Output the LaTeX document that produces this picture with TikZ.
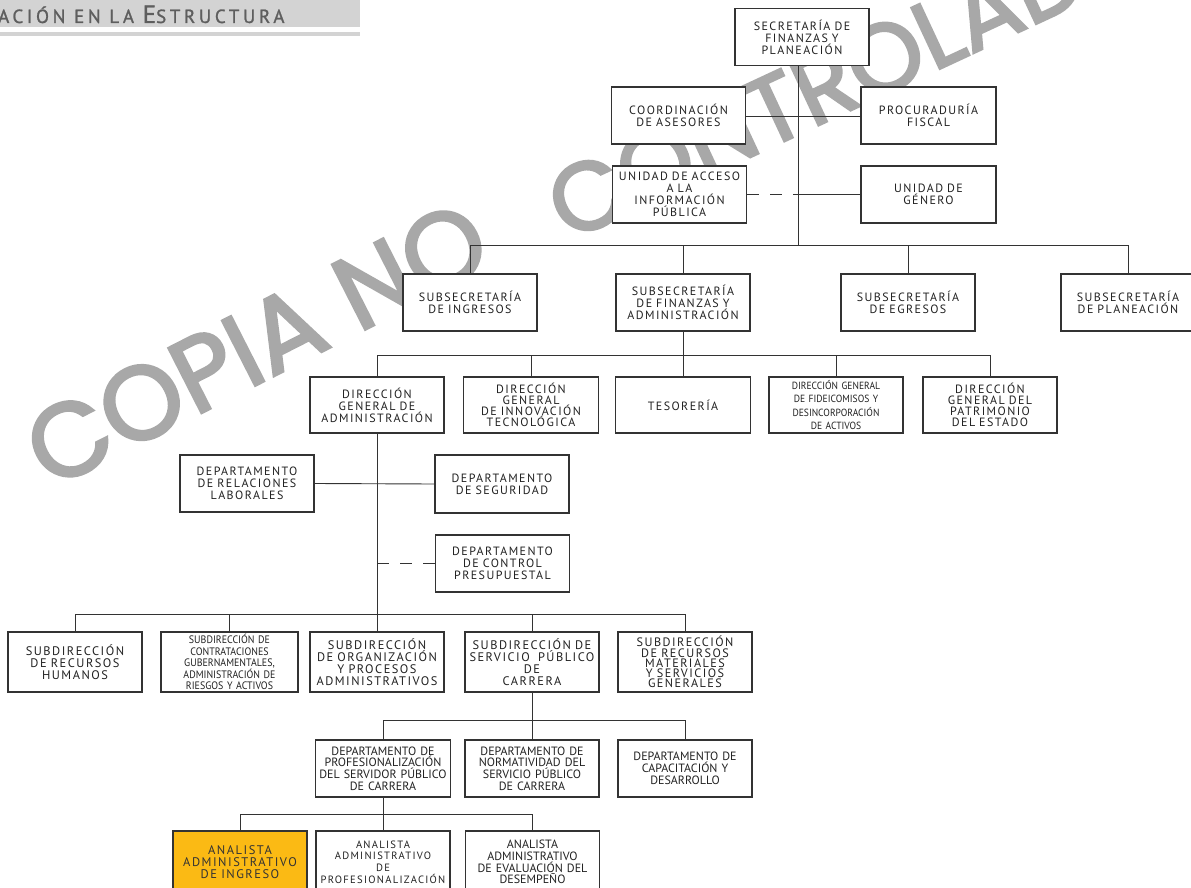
\documentclass[tikz,border=0pt]{standalone}
\usepackage{fontspec}
\setmainfont{PT Sans}
\newfontfamily\wmfont[FakeBold=2.8]{Poppins}
\newfontfamily\bxfont[LetterSpace=12]{PT Sans}
\newfontfamily\smfont{PT Sans}
\newfontfamily\cnfont[FakeStretch=0.92]{PT Sans}
\newfontfamily\hdfont[LetterSpace=19,FakeBold=1.2]{PT Sans}
\definecolor{wm}{HTML}{A8A8A8}
\definecolor{band}{HTML}{D3D3D3}
\definecolor{hdtxt}{HTML}{5E5E5E}
\definecolor{ylw}{HTML}{FBBA14}
\definecolor{bd}{HTML}{333333}
\definecolor{tx}{HTML}{222222}
\tikzset{
  box/.style={draw=bd, line width=1.1pt, fill=white, inner sep=1pt, align=center,
    text=tx, minimum width=134pt, minimum height=57pt, text width=132pt,
    font=\bxfont\fontsize{12}{12}\selectfont},
  smallbox/.style={box, font=\cnfont\fontsize{10.8}{11.6}\selectfont},
  midbox/.style={box, font=\smfont\fontsize{12}{11.8}\selectfont},
  ln/.style={draw=bd, line width=0.9pt},
  dln/.style={ln, dash pattern=on 12pt off 11pt},
  wmark/.style={anchor=base west, inner sep=0, text=wm}
}
\begin{document}
\begin{tikzpicture}[x=1pt,y=-1pt]
\useasboundingbox (0,0) rectangle (1191,888);
\clip (0,0) rectangle (1191,888);
% header
\fill[band] (0,0) rectangle (360,27);
\fill[band] (0,32) rectangle (360,36);
\node[anchor=base west, inner sep=0, text=hdtxt] (hdr) at (-2,23)
  {\hdfont\fontsize{19}{19}\selectfont ACIÓN EN LA \fontsize{25}{25}\selectfont E\fontsize{19}{19}\selectfont STRUCTURA};
% watermark
\node[wmark, rotate=27, font=\wmfont\fontsize{104}{104}\selectfont] (wm1) at (50,490) {COPIA NO};
\node[wmark, rotate=25, font=\wmfont\fontsize{96}{96}\selectfont] (wm2) at (568,242) {CONTROLADA};

% level 0/1
\node[box] (sec) at (802,37) {SECRETARÍA DE\\FINANZAS Y\\PLANEACIÓN};
\node[box, minimum width=133pt] (coord) at (678.5,115.5) {COORDINACIÓN\\DE ASESORES};
\node[box, minimum width=135pt] (proc) at (928.5,115.5) {PROCURADURÍA\\FISCAL};
\node[box, minimum width=133pt, font=\bxfont\fontsize{12}{12}\selectfont] (uaip) at (679.5,194.5) {UNIDAD DE ACCESO\\A LA\\INFORMACIÓN\\PÚBLICA};
\node[box, minimum width=135pt] (gen) at (928.5,194.5) {UNIDAD DE\\GÉNERO};
\coordinate (t1) at (798,245);
\draw[ln] ([xshift=-4pt]sec.south) -- (t1);
\draw[ln] ([yshift=-0.5pt]coord.east) -- ([yshift=-0.5pt]proc.west);
\draw[dln] (uaip.east) -- (uaip.east -| t1);
\draw[ln] (uaip.east -| t1) -- (gen.west);

% level 2
\node[box, minimum width=132pt] (ing) at (470,302.5) {SUBSECRETARÍA\\DE INGRESOS};
\node[box, minimum width=126pt] (fin) at (683,302.5) {SUBSECRETARÍA\\DE FINANZAS Y\\ADMINISTRACIÓN};
\node[box] (egr) at (908,302.5) {SUBSECRETARÍA\\DE EGRESOS};
\node[box, minimum width=128pt] (plan) at (1128,302.5) {SUBSECRETARÍA\\DE PLANEACIÓN};
\draw[ln] (ing.north) -- (ing.north |- t1) -- (plan.north |- t1) -- (plan.north);
\draw[ln] (egr.north) -- (egr.north |- t1);
\draw[ln] (fin.north) -- (fin.north |- t1);

% level 3
\coordinate (t2) at (683,355);
\node[box, minimum height=56pt] (dga) at (377,405) {DIRECCIÓN\\GENERAL DE\\ADMINISTRACIÓN};
\node[box, minimum height=56pt, minimum width=135pt, font=\bxfont\fontsize{12}{10.8}\selectfont] (dgit) at (531,405) {DIRECCIÓN\\GENERAL\\DE INNOVACIÓN\\TECNOLÓGICA};
\node[box, minimum height=56pt, minimum width=135pt] (tes) at (683,405) {TESORERÍA};
\node[smallbox, minimum height=56pt, font=\cnfont\fontsize{10.4}{13.5}\selectfont] (dgf) at (836,405) {DIRECCIÓN GENERAL\\DE FIDEICOMISOS Y\\DESINCORPORACIÓN\\DE ACTIVOS};
\node[box, minimum height=56pt, minimum width=133pt, font=\bxfont\fontsize{12}{11}\selectfont] (dgp) at (990,405) {DIRECCIÓN\\GENERAL DEL\\PATRIMONIO\\DEL ESTADO};
\draw[ln] (fin.south) -- (tes.north);
\draw[ln] (dga.north) -- (dga.north |- t2) -- (dgp.north |- t2) -- (dgp.north);
\draw[ln] (dgit.north) -- (dgit.north |- t2);
\draw[ln] (dgf.north) -- (dgf.north |- t2);

% level 4
\node[box] (drl) at (247,483.5) {DEPARTAMENTO\\DE RELACIONES\\LABORALES};
\node[box, minimum height=58pt] (dseg) at (502,484) {DEPARTAMENTO\\DE SEGURIDAD};
\node[box, minimum width=133pt] (dcp) at (502.5,563.5) {DEPARTAMENTO\\DE CONTROL\\PRESUPUESTAL};
\draw[ln] (drl.east) -- (dseg.west);
\coordinate (t3) at (377,614);

% level 5
\node[box, minimum height=60pt, font=\bxfont\fontsize{12.4}{12}\selectfont] (srh) at (75,662) {SUBDIRECCIÓN\\DE RECURSOS\\HUMANOS};
\node[smallbox, minimum height=60pt, minimum width=137pt] (scg) at (229.5,662) {SUBDIRECCIÓN DE\\CONTRATACIONES\\GUBERNAMENTALES,\\ADMINISTRACIÓN DE\\RIESGOS Y ACTIVOS};
\node[box, minimum height=60pt, font=\bxfont\fontsize{12.4}{11.8}\selectfont] (sop) at (377,662) {SUBDIRECCIÓN\\DE ORGANIZACIÓN\\Y PROCESOS\\ADMINISTRATIVOS};
\node[box, minimum height=60pt, font=\bxfont\fontsize{12.4}{11.8}\selectfont] (ssp) at (532,662) {SUBDIRECCIÓN DE\\SERVICIO\ \ PÚBLICO\\DE\\CARRERA};
\node[box, minimum height=60pt, font=\bxfont\fontsize{12.2}{10.2}\selectfont] (srm) at (685,662) {SUBDIRECCIÓN\\DE RECURSOS\\MATERIALES\\Y SERVICIOS\\GENERALES};
\draw[ln] (dga.south) -- (sop.north);
\draw[ln] (srh.north) -- (srh.north |- t3) -- (srm.north |- t3) -- (srm.north);
\draw[ln] (scg.north) -- (scg.north |- t3);
\draw[ln] (ssp.north) -- (ssp.north |- t3);
\draw[dln] (dcp.west -| t3) -- (dcp.west);

% level 6
\coordinate (t4) at (532,720);
\node[midbox, minimum width=135pt] (dpsp) at (383,768.5) {DEPARTAMENTO DE\\PROFESIONALIZACIÓN\\DEL SERVIDOR PÚBLICO\\DE CARRERA};
\node[midbox] (dnsp) at (532,768.5) {DEPARTAMENTO DE\\NORMATIVIDAD DEL\\SERVICIO\ PÚBLICO\\DE\ CARRERA};
\node[midbox] (dcd) at (685,768.5) {DEPARTAMENTO DE\\CAPACITACIÓN Y\\DESARROLLO};
\draw[ln] (ssp.south) -- (dnsp.north);
\draw[ln] (dpsp.north) -- (dpsp.north |- t4) -- (dcd.north |- t4) -- (dcd.north);

% level 7
\coordinate (t5) at (383,814);
\node[box, fill=ylw, minimum height=62pt, font=\bxfont\fontsize{12.5}{12}\selectfont, text=black!80] (aai) at (240,862) {ANALISTA\\ADMINISTRATIVO\\DE\ INGRESO};
\node[box, minimum height=62pt, font=\bxfont\fontsize{10.6}{11.8}\selectfont] (aap) at (383,862) {ANALISTA\\ADMINISTRATIVO\\DE\\PROFESIONALIZACIÓN};
\node[midbox, minimum height=62pt, minimum width=133pt] (aae) at (532.5,862) {ANALISTA\\ADMINISTRATIVO\\DE EVALUACIÓN DEL\\DESEMPEÑO};
\draw[ln] (dpsp.south) -- (aap.north);
\draw[ln] (aai.north) -- (aai.north |- t5) -- (aae.north |- t5) -- (aae.north);
\end{tikzpicture}
\end{document}
